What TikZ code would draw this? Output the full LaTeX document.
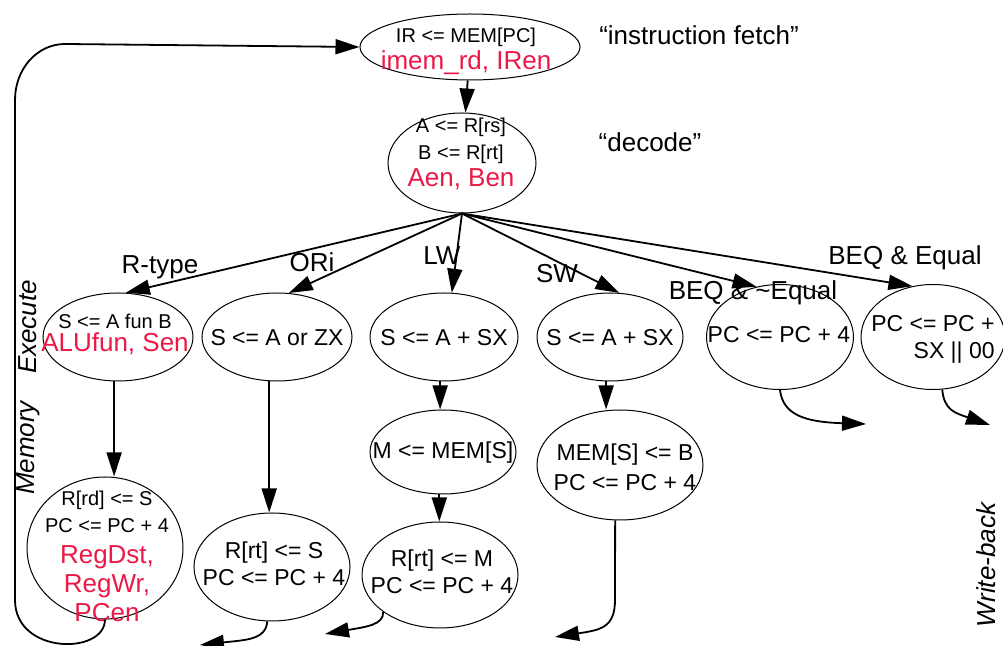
\documentclass[tikz,border=0pt]{standalone}
\usepackage{fontspec}
\setmainfont{Liberation Sans}
\usetikzlibrary{shapes.geometric, arrows.meta}

\definecolor{sigred}{RGB}{235,25,70}
\newcommand{\stsmall}{\fontsize{10}{12}\selectfont}
\newcommand{\stbig}{\fontsize{13}{15}\selectfont\color{sigred}}

\begin{document}
\begin{tikzpicture}[x=0.5pt, y=-0.5pt,
    state/.style={ellipse, draw, line width=0.5pt, inner sep=0pt},
    txt/.style={align=center, font=\fontsize{11.5}{13.5}\selectfont},
    lbl/.style={anchor=base, font=\fontsize{13}{15}\selectfont},
    phase/.style={rotate=90, font=\fontsize{13}{15}\selectfont\itshape},
    arr/.style={-{Triangle[length=12pt, width=7.5pt]}, line width=0.9pt}]
    \useasboundingbox (0,0) rectangle (1003,646);

    % States
    \node[state, minimum width=110pt, minimum height=33pt] (fetch) at (470,47) {};
    \node[state, minimum width=74pt, minimum height=50pt] (decode) at (462,163) {};
    \node[state, minimum width=75pt, minimum height=44pt] (rtype) at (118,337) {};
    \node[state, minimum width=75pt, minimum height=44pt] (ori) at (277,337) {};
    \node[state, minimum width=74pt, minimum height=44pt] (lwex) at (444,337) {};
    \node[state, minimum width=73pt, minimum height=44pt] (swex) at (610,337) {};
    \node[state, minimum width=73.5pt, minimum height=52.5pt] (bne) at (780,337) {};
    \node[state, minimum width=72pt, minimum height=52.5pt] (beq) at (933,337) {};
    \node[state, minimum width=73pt, minimum height=42pt] (lwmem) at (443,452) {};
    \node[state, minimum width=83pt, minimum height=55pt] (swmem) at (620,465) {};
    \node[state, minimum width=78pt, minimum height=71pt] (rwb) at (105,548) {};
    \node[state, minimum width=78pt, minimum height=54pt] (oriwb) at (272,567) {};
    \node[state, minimum width=78pt, minimum height=53pt] (lwwb) at (440,575) {};

    % State texts
    \node[txt] (fetchtxt) at (466,51) {{\stsmall IR <= MEM[PC]}\\{\stbig imem\_rd, IRen}};
    \node[txt] (decodetxt) at (461,154) {{\stsmall A <= R[rs]}\\{\stsmall B <= R[rt]}\\{\stbig Aen, Ben}};
    \node[txt] (rtypetxt) at (115,334) {{\stsmall S <= A fun B}\\[-2pt]{\stbig ALUfun, Sen}};
    \node[txt] (oritxt) at (277,338) {S <= A or ZX};
    \node[txt] (lwextxt) at (444,338) {S <= A + SX};
    \node[txt] (swextxt) at (610,338) {S <= A + SX};
    \node[txt] (bnetxt) at (779,335) {PC <= PC + 4};
    \node[txt, align=right] (beqtxt) at (933,339) {PC <= PC +\\SX || 00};
    \node[txt] (lwmemtxt) at (443,453) {M <= MEM[S]};
    \node[txt] (swmemtxt) at (625,467) {MEM[S] <= B\\[1.5pt]PC <= PC + 4};
    \node[txt] (rwbtxt) at (107,556) {{\stsmall R[rd] <= S}\\{\stsmall PC <= PC + 4}\\[2pt]{\stbig RegDst,}\\[1pt]{\stbig RegWr,}\\[1pt]{\stbig PCen}};
    \node[txt] (oriwbtxt) at (274,564) {R[rt] <= S\\PC <= PC + 4};
    \node[txt] (lwwbtxt) at (442,572) {R[rt] <= M\\PC <= PC + 4};

    % Transitions
    \draw[arr] (fetch) -- (decode);
    \draw[arr] (decode.south) -- (rtype.80);
    \draw[arr] (decode.south) -- (ori.75);
    \draw[arr] (decode.south) -- (lwex.80);
    \draw[arr] (decode.south) -- (swex.78);
    \draw[arr] (decode.south) -- (bne.115);
    \draw[arr] (decode.south) -- (beq.112);
    \draw[arr] (rtype.265) -- (rtype.265 |- rwb.north);
    \draw[arr] (ori.260) -- (ori.260 |- oriwb.north);
    \draw[arr] (lwex.265) -- (lwex.265 |- lwmem.north);
    \draw[arr] (lwmem.265) -- (lwmem.265 |- lwwb.north);
    \draw[arr] (swex.265) -- (swex.265 |- swmem.north);

    % Back to fetch
    \draw[arr] (rwb.south) .. controls (105,655) and (15,655) .. (15,600) -- (15,100)
        .. controls (15,69) and (37,44) .. (65,44) -- (fetch.west);

    % Open ends
    \coordinate (oriout) at (200,645);
    \coordinate (lwout) at (325,634);
    \coordinate (swout) at (555,637);
    \coordinate (bneout) at (866,424);
    \coordinate (beqout) at (990,425);
    \draw[arr] (oriwb.265) .. controls (266,640) and (245,640) .. (oriout);
    \draw[arr] (lwwb.213) .. controls (384,625) and (365,627) .. (lwout);
    \draw[arr] (swmem.265) -- (615,600) .. controls (615,628) and (600,630) .. (swout);
    \draw[arr] (bne.south) .. controls (783,415) and (805,422) .. (bneout);
    \draw[arr] (beq.280) .. controls (944,410) and (955,413) .. (beqout);

    % Labels
    \node[lbl] (rtypelbl) at (160,274) {R-type};
    \node[lbl] (orilbl) at (312,272) {ORi};
    \node[lbl] (lwlbl) at (442,265) {LW};
    \node[lbl] (swlbl) at (557,283) {SW};
    \node[lbl] (bnelbl) at (753,300) {BEQ \& \textasciitilde Equal};
    \node[lbl] (beqlbl) at (905,265) {BEQ \& Equal};
    \node[lbl] (fetchlbl) at (699,45) {“instruction fetch”};
    \node[lbl] (decodelbl) at (650,152) {“decode”};
    \node[phase] (exlbl) at (28,327) {Execute};
    \node[phase] (memlbl) at (28,448) {Memory};
    \node[phase] (wblbl) at (986,565) {Write-back};
\end{tikzpicture}
\end{document}
